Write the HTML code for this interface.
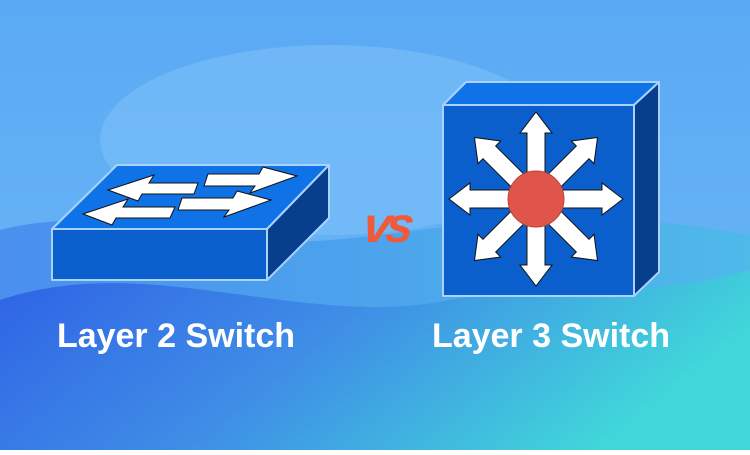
<!DOCTYPE html>
<html><head><style>
body{margin:0;width:750px;height:450px;overflow:hidden;font-family:"Liberation Sans",sans-serif}
</style></head><body>
<svg width="750" height="450" viewBox="0 0 750 450">
<defs>
<linearGradient id="bg" x1="0" y1="0" x2="0" y2="1">
<stop offset="0" stop-color="#5aa9f4"/><stop offset="1" stop-color="#6db8f6"/></linearGradient>
<linearGradient id="low" x1="0" y1="0" x2="1" y2="0.3">
<stop offset="0" stop-color="#2f62e6"/><stop offset="0.5" stop-color="#3f8ee6"/><stop offset="1" stop-color="#40d6da"/></linearGradient>
<linearGradient id="mid" x1="0" y1="0" x2="1" y2="0">
<stop offset="0" stop-color="#4a8fee"/><stop offset="1" stop-color="#4fb9ea"/></linearGradient>
</defs>
<rect width="750" height="450" fill="url(#bg)"/>
<ellipse cx="330" cy="140" rx="230" ry="95" fill="#7cc0f8" opacity="0.6"/>
<path d="M0 230 C120 200 220 250 330 240 C450 230 560 200 750 235 L750 450 L0 450Z" fill="url(#mid)"/>
<path d="M0 300 C150 250 300 330 450 300 C560 280 650 300 750 270 L750 450 L0 450Z" fill="url(#low)"/>
<!-- Layer 2 switch -->
<g stroke="#a9d2ff" stroke-width="2" stroke-linejoin="round">
<polygon points="52,229 117,165 329,165 267,229" fill="#0f72e6"/>
<polygon points="267,229 329,165 329,218 267,280" fill="#073f8c"/>
<rect x="52" y="229" width="215" height="51" fill="#0b5fcc"/>
</g>
<g fill="#fff" stroke="#111" stroke-width="1">
<polygon points="108,190 154,175 149,183 198,183 194,194 142,194 138,201"/>
<polygon points="83,214 128,199 123,207 175,207 170,218 116,218 112,225"/>
<polygon points="208,174 259,174 263,167 297,176 250,193 255,186 204,186"/>
<polygon points="182,198 233,198 237,191 271,200 224,217 229,210 178,210"/>
</g>
<!-- Layer 3 switch -->
<g stroke="#a9d2ff" stroke-width="2" stroke-linejoin="round">
<polygon points="443,105 466,82 659,82 634,105" fill="#0f72e6"/>
<polygon points="634,105 659,82 659,272 634,296" fill="#073f8c"/>
<rect x="443" y="105" width="191" height="191" fill="#0b5fcc"/>
</g>
<g transform="translate(536,199)" fill="#fff" stroke="#111" stroke-width="1">
<g id="ar"><polygon points="-9,0 -9,-66 -16,-66 0,-87 16,-66 9,-66 9,0"/></g>
<use href="#ar" transform="rotate(45)"/><use href="#ar" transform="rotate(90)"/><use href="#ar" transform="rotate(135)"/>
<use href="#ar" transform="rotate(180)"/><use href="#ar" transform="rotate(225)"/><use href="#ar" transform="rotate(270)"/><use href="#ar" transform="rotate(315)"/>
<circle r="28" fill="#e0554a" stroke="#c04035"/>
</g>
<text x="386" y="242" text-anchor="middle" font-size="50" font-weight="bold" font-style="italic" fill="#f0593a" letter-spacing="-5" transform="skewX(-8) translate(32,0)">vs</text>
<text x="176" y="347" text-anchor="middle" font-size="34" font-weight="bold" fill="#fff">Layer 2 Switch</text>
<text x="551" y="347" text-anchor="middle" font-size="34" font-weight="bold" fill="#fff">Layer 3 Switch</text>
</svg>
</body></html>
